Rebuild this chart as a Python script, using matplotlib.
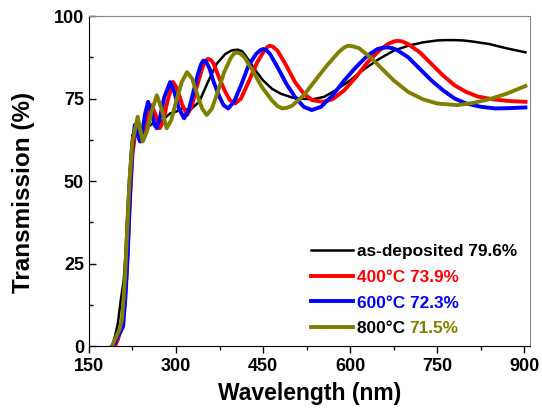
import matplotlib.pyplot as plt
from matplotlib.ticker import MultipleLocator

plt.rcParams['font.family'] = ['Liberation Sans', 'DejaVu Sans']
plt.rcParams['font.weight'] = 'bold'

# as-deposited
wl_as = [190, 195, 200, 205, 210, 213, 216, 219, 222, 225, 230, 240, 250, 260, 270, 280, 290,
         300, 310, 324, 340, 355, 370, 385, 395, 400, 407, 414, 420, 435, 450, 465, 480, 500,
         520, 536, 555, 575, 600, 625, 650, 675, 700, 725, 750, 765, 781, 795, 810, 840, 870, 902]
t_as = [0, 3, 7, 14, 20, 28, 40, 50, 58, 64, 65, 64, 66, 67.5, 67, 69, 70.5,
        71, 72, 71.5, 74, 80, 85.5, 88.5, 89.5, 89.7, 89.8, 89.3, 88, 84, 80.5, 78, 76.5, 75.3,
        74.9, 74.8, 75.5, 77.5, 80.5, 84, 87, 89.5, 91, 92, 92.6, 92.7, 92.7, 92.6, 92.3, 91.5,
        90.2, 89]

# 400 C
wl_400 = [195, 200, 205, 210, 215, 220, 225, 231, 235, 240, 245, 250, 258, 265, 272, 278, 285,
          295, 302, 310, 319, 327, 335, 345, 350, 355, 360, 365, 375, 385, 393, 402, 412, 425,
          440, 452, 458, 462, 467, 475, 490, 505, 520, 535, 553, 570, 590, 610, 630, 650, 665,
          674, 681, 690, 700, 720, 740, 760, 780, 800, 820, 845, 870, 902]
t_400 = [0, 2, 5, 10, 22, 42, 58, 66, 64, 62, 64, 69, 73, 70, 66, 68, 74,
         80, 78, 73.5, 70, 72.5, 78, 84, 86.3, 87, 86.7, 85.5, 81, 77, 74.5, 73.5, 75, 80,
         86, 89.5, 90.7, 91, 90.7, 89.5, 85, 80, 76.5, 74.5, 74, 74.8, 77.5, 81.5, 86, 89.5, 91.5,
         92.2, 92.5, 92.3, 91.5, 89, 85.5, 82, 79, 77, 75.6, 74.8, 74.3, 74]

# 600 C
wl_600 = [190, 195, 200, 205, 209, 213, 217, 220, 222, 225, 229, 234, 238, 242, 247, 252, 258,
          263, 267, 272, 280, 290, 297, 305, 314, 322, 330, 338, 343, 347, 352, 358, 365, 375,
          382, 390, 400, 412, 425, 438, 445, 450, 456, 462, 475, 490, 505, 520, 534, 550, 570,
          590, 610, 630, 647, 656, 664, 672, 680, 700, 720, 740, 760, 780, 800, 825, 850, 875,
          902]
t_600 = [0, 1, 3, 4.5, 6, 15, 28, 42, 50, 60, 67, 64, 62, 65, 70.5, 74, 71,
         67, 66, 69, 75.5, 80, 77, 72, 69, 71.5, 77, 82.5, 85.3, 86.5, 86.2, 84, 80, 75.5,
         73, 72, 74, 79, 85, 88.5, 89.6, 90, 89.6, 88.5, 84.5, 79.5, 75.5, 72.5, 71.5, 72.5, 76,
         80.5, 84.5, 88, 90, 90.4, 90.5, 90.3, 89.8, 87.5, 84, 80.5, 77.5, 75, 73.5, 72.5, 72,
         72.1, 72.3]

# 800 C
wl_800 = [190, 195, 200, 203, 207, 212, 216, 220, 225, 230, 234, 238, 243, 250, 258, 267, 275,
          284, 292, 300, 310, 319, 328, 337, 345, 353, 362, 372, 383, 395, 400, 405, 411, 418,
          432, 448, 465, 475, 483, 491, 500, 520, 540, 560, 580, 590, 597, 605, 615, 635, 655,
          675, 700, 725, 750, 784, 810, 840, 870, 902]
t_800 = [0, 2, 4, 5, 8, 20, 35, 50, 62, 66, 69.5, 66, 62, 65, 71, 76, 72,
         66, 68.5, 74, 80, 83, 81, 76, 72, 70, 72, 77, 83, 87.5, 88.6, 89, 88.6, 87.5,
         83.5, 78.5, 74.5, 72.7, 72, 72.2, 72.8, 76, 80.5, 85, 89, 90.5, 91, 90.8, 90.3, 87.5, 84,
         80.5, 77, 74.8, 73.5, 73, 73.6, 74.8, 76.5, 78.8]

labels = ['as-deposited 79.6%', '400°C 73.9%', '600°C 72.3%', '800°C ']
colors = ['black', '#ff0000', '#0000ff', '#808000']
text_colors = ['black', '#ff0000', '#0000ff', 'black']

fig = plt.figure(figsize=(5.42, 4.11), dpi=100)
ax = fig.add_axes([0.164, 0.158, 0.814, 0.803])

ax.plot(wl_as, t_as, color=colors[0], lw=1.8, label=labels[0])
ax.plot(wl_400, t_400, color=colors[1], lw=2.8, label=labels[1])
ax.plot(wl_600, t_600, color=colors[2], lw=2.8, label=labels[2])
ax.plot(wl_800, t_800, color=colors[3], lw=2.8, label=labels[3])

ax.set_xlim(150, 910)
ax.set_ylim(0, 100)
ax.xaxis.set_major_locator(MultipleLocator(150))
ax.xaxis.set_minor_locator(MultipleLocator(75))
ax.yaxis.set_major_locator(MultipleLocator(25))
ax.yaxis.set_minor_locator(MultipleLocator(12.5))
ax.tick_params(axis='x', which='both', direction='out', labelsize=13)
ax.tick_params(axis='y', which='both', direction='in', labelsize=13)
ax.tick_params(which='major', length=5, width=1)
ax.tick_params(which='minor', length=3, width=1)
for lab in ax.get_xticklabels() + ax.get_yticklabels():
    lab.set_fontweight('bold')
for s in ['top', 'right']:
    ax.spines[s].set_color('#888888')

ax.set_xlabel('Wavelength (nm)', fontsize=16.5, fontweight='bold')
ax.set_ylabel('Transmission (%)', fontsize=17.5, fontweight='bold')
ax.xaxis.set_label_coords(0.5, -0.11)
ax.yaxis.set_label_coords(-0.122, 0.464)

leg = ax.legend(loc='upper left', bbox_to_anchor=(311 / 542, 1 - 244 / 411),
                bbox_transform=fig.transFigure, frameon=False, fontsize=12.4,
                handlelength=2.45, handletextpad=0.2, labelspacing=0.62,
                borderpad=0, borderaxespad=0)
for t, c in zip(leg.get_texts(), text_colors):
    t.set_color(c)
    t.set_fontweight('bold')

# last legend entry has a two-colour label
fig.canvas.draw()
bb = leg.get_texts()[3].get_window_extent(fig.canvas.get_renderer())
W, H = fig.bbox.width, fig.bbox.height
fig.text(bb.x1 / W, bb.y0 / H, '71.5%', va='bottom', ha='left',
         fontsize=12.4, fontweight='bold', color='#808000')

fig.savefig('out.png', dpi=100)
